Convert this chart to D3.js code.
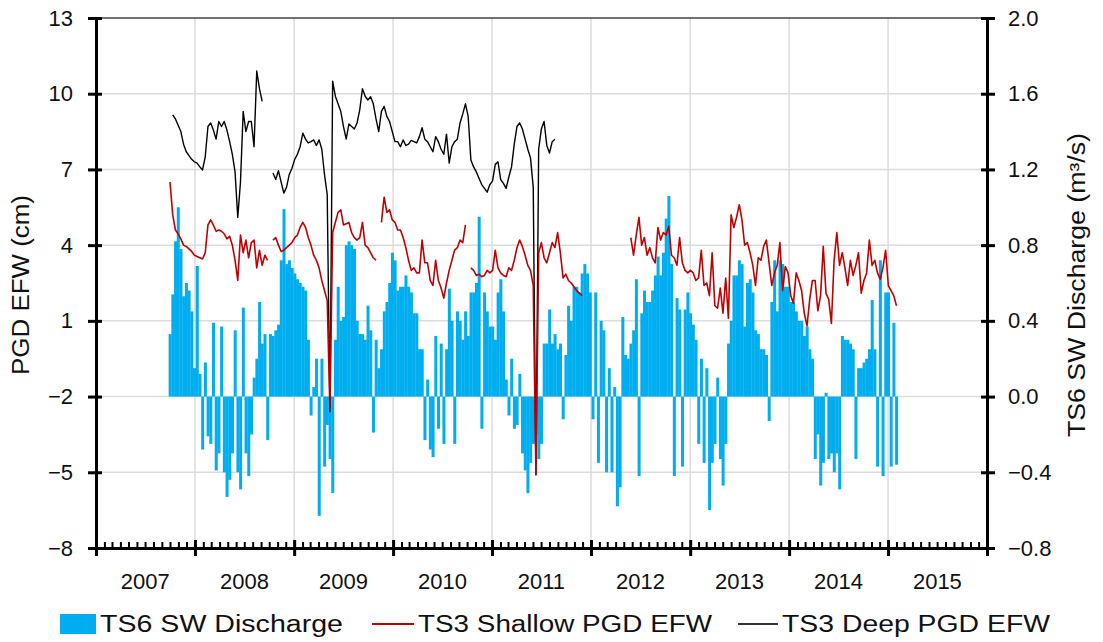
<!DOCTYPE html>
<html><head><meta charset="utf-8">
<script src="https://cdn.jsdelivr.net/npm/d3@7"></script>
<style>
body{margin:0;background:#fff}
svg{display:block}
text{font-family:"Liberation Sans",Arial,sans-serif;fill:#111}
</style>
</head><body>
<svg id="c" width="1103" height="642"></svg>
<script>
// ---------- data ----------
const yearLabels = ["2007","2008","2009","2010","2011","2012","2013","2014","2015"];
const leftTicks = [-8,-5,-2,1,4,7,10,13];
const rightTicks = [-0.8,-0.4,0.0,0.4,0.8,1.2,1.6,2.0];
const seriesStart = [2007, 9, 1];   // 1 Oct 2007, one value every 10 days
const stepDays = 10;

// TS6 SW Discharge (m3/s)
const discharge = [
0.33,0.54,0.82,1.00,0.78,0.53,0.60,0.56,0.45,0.15,
0.69,0.12,-0.28,0.18,-0.21,-0.25,0.39,-0.39,-0.30,0.37,
-0.40,-0.53,-0.44,-0.30,0.35,-0.40,-0.49,0.47,-0.30,-0.42,
-0.20,0.10,0.20,0.50,0.28,0.33,-0.23,0.33,0.32,0.35,
0.38,0.72,0.99,0.70,0.72,0.68,0.65,0.62,0.60,0.58,
0.56,0.30,-0.10,0.05,0.20,-0.63,0.20,-0.37,-0.15,-0.33,
-0.51,0.30,0.58,0.40,0.42,0.80,0.82,0.80,0.78,0.40,
0.33,0.33,0.30,0.48,0.35,-0.19,0.30,0.15,0.25,0.45,
0.50,0.60,0.76,0.72,0.56,0.58,0.58,0.64,0.58,0.55,
0.44,0.44,0.25,0.25,-0.23,0.09,-0.28,-0.32,0.32,-0.17,
0.28,-0.25,0.25,0.57,0.40,-0.25,0.45,0.40,0.30,0.45,
0.32,0.55,0.55,0.60,0.95,-0.17,0.55,0.45,0.37,0.37,
0.30,0.55,0.62,0.45,0.09,-0.10,0.20,-0.17,-0.15,0.12,
-0.30,-0.39,-0.51,-0.35,-0.25,-0.20,-0.33,-0.25,0.28,0.28,
0.46,0.28,0.33,0.25,0.28,-0.12,0.22,0.48,0.40,0.58,
0.58,0.55,0.65,0.70,0.65,0.55,-0.12,0.55,-0.35,0.40,
0.35,-0.40,0.15,-0.40,0.05,-0.58,-0.48,0.42,0.22,0.20,
0.28,0.35,0.62,-0.42,0.44,0.56,0.50,0.50,0.56,0.64,
0.74,0.64,0.76,0.94,1.06,0.70,-0.42,0.52,0.46,-0.37,
0.46,0.55,0.44,0.38,0.30,-0.25,0.20,-0.35,0.15,-0.60,
-0.35,-0.25,0.10,-0.33,-0.47,-0.25,0.28,0.40,0.64,0.64,
0.72,0.70,0.37,0.60,0.62,0.55,0.35,0.33,0.25,0.25,
0.22,-0.13,0.50,0.72,0.45,0.72,0.70,0.58,0.58,0.50,
0.50,0.45,0.40,0.40,0.32,0.37,0.25,0.20,-0.33,-0.20,
-0.47,-0.35,0.02,-0.33,-0.30,-0.40,-0.30,-0.49,0.32,0.30,
0.30,0.28,0.25,-0.33,0.15,0.15,0.18,0.20,0.25,0.51,
0.25,-0.37,0.72,-0.42,0.55,0.55,-0.37,0.39,-0.36
];

// TS3 Shallow PGD EFW (cm)
const shallow = [
6.5,5.2,4.6,4.45,4.25,4.0,3.95,3.85,3.75,3.6,
3.55,3.5,3.45,3.7,4.8,5.0,4.8,4.55,4.6,4.55,
4.45,4.25,4.35,4.0,3.4,2.6,4.4,3.7,4.2,3.5,
4.1,4.2,3.1,3.8,3.2,3.6,3.4,null,4.2,4.3,
4.0,3.75,3.8,3.9,4.0,4.1,4.3,4.4,4.7,4.9,
4.7,4.3,4.0,3.6,3.4,3.1,2.6,2.2,1.8,-2.5,
4.5,4.9,5.3,5.4,4.8,4.85,4.9,4.5,4.3,4.2,
4.3,4.9,4.0,3.9,3.7,3.5,3.4,null,4.9,5.9,
5.3,5.4,5.0,4.9,4.6,4.6,4.3,3.9,3.4,3.0,
3.1,2.9,2.9,4.2,3.3,3.3,2.6,2.4,3.4,2.6,
2.3,1.9,2.5,3.0,3.4,3.8,3.9,4.2,4.1,4.8,
null,3.1,3.0,2.8,2.85,2.75,2.8,3.0,2.9,3.0,
3.8,3.1,2.9,2.8,2.75,3.1,3.0,3.4,3.9,4.2,
3.95,3.6,3.2,3.0,2.4,-5.1,3.7,4.1,3.5,3.3,
3.7,4.1,3.9,4.5,3.7,2.7,2.85,2.6,2.5,2.35,
2.2,2.1,2.0,null,null,null,null,null,null,null,
null,null,null,null,null,null,null,null,null,null,
4.3,3.6,4.4,5.1,4.0,4.3,3.6,3.9,3.5,3.3,
4.7,4.2,4.5,4.4,4.75,3.6,3.5,3.2,4.3,3.3,
3.0,2.9,3.0,2.9,2.6,2.7,3.8,2.4,2.5,2.0,
3.7,1.6,1.5,2.3,1.3,2.7,1.1,5.2,4.7,5.1,
5.6,5.0,4.0,4.1,3.7,3.2,2.4,3.5,3.4,3.95,
4.2,3.3,2.4,2.9,3.2,4.1,2.2,3.15,2.9,2.0,
1.7,2.9,2.6,2.2,1.3,0.8,1.85,2.6,2.6,1.4,
2.0,3.95,2.1,1.85,0.9,3.4,4.5,3.2,3.7,3.1,
2.4,3.4,2.8,3.2,3.7,2.1,2.6,2.9,4.2,3.2,
3.4,2.9,2.65,3.1,3.8,2.4,2.2,2.0,1.6
];

// TS3 Deep PGD EFW (cm)
const deep = [
null,9.16,9.0,8.75,8.5,8.0,7.7,7.55,7.4,7.3,
7.25,7.1,6.98,7.5,8.7,8.84,8.56,8.2,8.9,8.7,
8.9,8.56,8.1,7.6,6.9,5.1,6.5,9.3,8.5,8.9,
8.9,7.9,10.9,10.2,9.7,null,null,null,6.86,6.6,
6.95,6.5,6.06,6.3,6.8,7.05,7.4,7.6,7.9,8.44,
8.2,8.05,8.1,8.17,7.95,8.17,7.8,6.8,6.0,-2.6,
10.5,9.9,9.6,9.3,8.7,8.2,8.8,8.7,8.6,8.84,
9.36,10.2,9.9,9.75,9.88,9.6,9.0,8.5,9.3,9.5,
9.1,8.9,8.5,8.1,8.1,7.9,8.17,7.95,8.0,8.15,
8.1,8.05,8.3,8.65,8.2,8.1,7.9,7.7,8.3,8.1,
7.8,7.6,8.4,7.25,7.9,8.1,8.2,8.84,9.2,9.6,
9.1,7.37,7.1,6.9,6.65,6.4,6.25,6.1,6.4,6.55,
7.2,7.3,6.6,6.45,6.25,6.7,7.1,8.0,8.7,8.84,
8.6,8.2,7.8,7.45,6.3,-5.1,7.8,8.6,8.9,7.95,
7.65,8.1,8.2
];

// ---------- layout ----------
const L = 96, R = 987, T = 18, B = 548;
const svg = d3.select("#c");

const x = d3.scaleUtc().domain([new Date(Date.UTC(2007,0,1)), new Date(Date.UTC(2016,0,1))]).range([L, R]);
const yL = d3.scaleLinear().domain([-8, 13]).range([B, T]);
const yR = d3.scaleLinear().domain([-0.8, 2.0]).range([B, T]);

const start = new Date(Date.UTC(seriesStart[0], seriesStart[1], seriesStart[2]));
const dateAt = i => d3.utcDay.offset(start, i * stepDays);

// gridlines
const grid = svg.append("g");
leftTicks.filter(v => v > -8 && v < 13).forEach(v => {
  grid.append("line").attr("x1", L).attr("x2", R).attr("y1", yL(v)).attr("y2", yL(v))
    .attr("stroke", "#dcdcdc").attr("stroke-width", 1.5);
});
const years = d3.utcYear.range(new Date(Date.UTC(2008,0,1)), new Date(Date.UTC(2016,0,1)));
years.forEach(d => {
  grid.append("line").attr("x1", x(d)).attr("x2", x(d)).attr("y1", T).attr("y2", B)
    .attr("stroke", "#dcdcdc").attr("stroke-width", 1.5);
});

// bars
const barData = discharge.map((v, i) => ({date: dateAt(i), v}));
svg.append("g").selectAll("rect").data(barData).join("rect")
  .attr("x", d => x(d3.utcDay.offset(d.date, -stepDays/2)))
  .attr("width", d => x(d3.utcDay.offset(d.date, stepDays/2)) - x(d3.utcDay.offset(d.date, -stepDays/2)) + 0.3)
  .attr("y", d => Math.min(yR(d.v), yR(0)))
  .attr("height", d => Math.abs(yR(d.v) - yR(0)))
  .attr("fill", "#00AEEF");

// lines
const mk = arr => arr.map((v, i) => ({date: dateAt(i), v}));
const line = d3.line().defined(d => d.v != null).x(d => x(d.date)).y(d => yL(d.v));
svg.append("path").datum(mk(deep)).attr("d", line)
  .attr("fill", "none").attr("stroke", "#000").attr("stroke-width", 1.4).attr("stroke-linejoin", "round");
svg.append("path").datum(mk(shallow)).attr("d", line)
  .attr("fill", "none").attr("stroke", "#C00000").attr("stroke-width", 1.6).attr("stroke-linejoin", "round");

// top border
svg.append("line").attr("x1", L).attr("x2", R).attr("y1", T).attr("y2", T)
  .attr("stroke", "#444").attr("stroke-width", 1.5);

// left axis
const axL = svg.append("g").attr("transform", `translate(${L},0)`)
  .call(d3.axisLeft(yL).tickValues(leftTicks).tickFormat(d3.format("d")).tickSizeOuter(0).tickSizeInner(8).tickPadding(15));
axL.select(".domain").attr("stroke", "#000").attr("stroke-width", 3);
axL.selectAll(".tick line").attr("x1", 6).attr("x2", -8).attr("stroke", "#000").attr("stroke-width", 3);
axL.selectAll(".tick text").attr("font-size", 22).attr("font-family", "Liberation Sans, Arial, sans-serif").attr("fill", "#111");

// right axis
const axR = svg.append("g").attr("transform", `translate(${R},0)`)
  .call(d3.axisRight(yR).tickValues(rightTicks).tickFormat(d3.format(".1f")).tickSizeOuter(0).tickSizeInner(8).tickPadding(13));
axR.select(".domain").attr("stroke", "#000").attr("stroke-width", 3);
axR.selectAll(".tick line").attr("x1", -6).attr("x2", 8).attr("stroke", "#000").attr("stroke-width", 3);
axR.selectAll(".tick text").attr("font-size", 22).attr("font-family", "Liberation Sans, Arial, sans-serif").attr("fill", "#111");

// bottom axis: minor monthly ticks pointing up
const months = d3.utcMonth.range(new Date(Date.UTC(2007,0,1)), new Date(Date.UTC(2016,0,1)))
  .filter(d => d.getUTCMonth() !== 0);
const axMinor = svg.append("g").attr("transform", `translate(0,${B})`)
  .call(d3.axisTop(x).tickValues(months).tickFormat("").tickSizeOuter(0).tickSizeInner(6));
axMinor.select(".domain").remove();
axMinor.selectAll(".tick line").attr("stroke", "#000").attr("stroke-width", 2);

const yearTicks = d3.utcYear.range(new Date(Date.UTC(2007,0,1)), new Date(Date.UTC(2017,0,1)));
const axB = svg.append("g").attr("transform", `translate(0,${B})`)
  .call(d3.axisBottom(x).tickValues(yearTicks).tickFormat("").tickSizeOuter(0).tickSizeInner(8));
axB.select(".domain").attr("stroke", "#000").attr("stroke-width", 3);
axB.selectAll(".tick line").attr("y1", -8).attr("y2", 8).attr("stroke", "#000").attr("stroke-width", 3);

// year labels centered in intervals
svg.append("g").selectAll("text").data(yearLabels).join("text")
  .attr("x", d => x(new Date(Date.UTC(+d, 6, 2))))
  .attr("y", 589).attr("text-anchor", "middle").attr("font-size", 22).text(d => d);

// axis titles
svg.append("text").attr("transform", "translate(29,285) rotate(-90)")
  .attr("text-anchor", "middle").attr("font-size", 23)
  .attr("textLength", 180).attr("lengthAdjust", "spacingAndGlyphs").text("PGD EFW (cm)");
svg.append("text").attr("transform", "translate(1085,285) rotate(-90)")
  .attr("text-anchor", "middle").attr("font-size", 23)
  .attr("textLength", 304).attr("lengthAdjust", "spacingAndGlyphs").text("TS6 SW Discharge (m³/s)");

// legend
const lg = svg.append("g");
lg.append("rect").attr("x", 60).attr("y", 614).attr("width", 36).attr("height", 20).attr("fill", "#00AEEF");
lg.append("text").attr("x", 100).attr("y", 632).attr("font-size", 23)
  .attr("textLength", 243).attr("lengthAdjust", "spacingAndGlyphs").text("TS6 SW Discharge");
lg.append("line").attr("x1", 372).attr("x2", 414).attr("y1", 624).attr("y2", 624).attr("stroke", "#C00000").attr("stroke-width", 2);
lg.append("text").attr("x", 418).attr("y", 632).attr("font-size", 23)
  .attr("textLength", 294).attr("lengthAdjust", "spacingAndGlyphs").text("TS3 Shallow PGD EFW");
lg.append("line").attr("x1", 738).attr("x2", 778).attr("y1", 624).attr("y2", 624).attr("stroke", "#333").attr("stroke-width", 2);
lg.append("text").attr("x", 782).attr("y", 632).attr("font-size", 23)
  .attr("textLength", 268).attr("lengthAdjust", "spacingAndGlyphs").text("TS3 Deep PGD EFW");
</script>
</body></html>
